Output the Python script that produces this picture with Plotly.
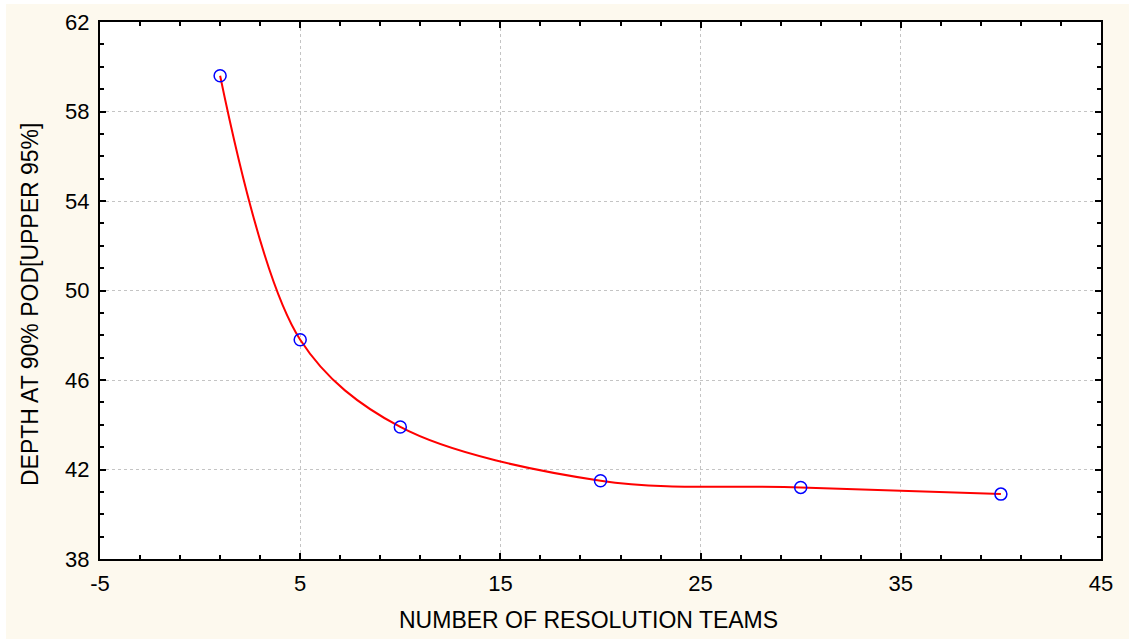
import plotly.graph_objects as go

# Detection depth vs. number of resolution teams
teams = [1, 5, 10, 20, 30, 40]
depth = [59.6, 47.8, 43.9, 41.5, 41.2, 40.9]

x_ticks = [-5, 5, 15, 25, 35, 45]
y_ticks = [38, 42, 46, 50, 54, 58, 62]

x_title = "NUMBER OF RESOLUTION TEAMS"
y_title = "DEPTH AT 90% POD[UPPER 95%]"

W, H = 1129, 639
L, R, T, B = 100, 28, 22, 80
pw, ph = W - L - R, H - T - B

cream = "#FDF9EE"
font = "Liberation Sans, Arial, sans-serif"

fig = go.Figure()

fig.add_trace(go.Scatter(
    x=teams, y=depth, mode="lines",
    line=dict(color="#FF0000", width=2, shape="spline", smoothing=0.95),
    hoverinfo="skip", showlegend=False,
))
fig.add_trace(go.Scatter(
    x=teams, y=depth, mode="markers",
    marker=dict(symbol="circle-open", size=12, color="#0000FF", line=dict(width=1.5)),
    showlegend=False,
))

axis_common = dict(
    showline=True, linecolor="black", linewidth=2, mirror="allticks",
    ticks="inside", ticklen=6, tickwidth=1.5, tickcolor="black",
    showgrid=True, gridcolor="#C4C4C4", griddash="dot", gridwidth=1,
    zeroline=False, automargin=False,
    tickfont=dict(family=font, size=22, color="black"),
)

fig.update_xaxes(
    range=[-5, 45], tickvals=x_ticks, ticktext=[str(v) for v in x_ticks],
    minor=dict(dtick=2, tick0=-5, ticks="inside", ticklen=4, tickwidth=1.5, tickcolor="black", showgrid=False),
    ticklabelstandoff=4,
    **axis_common,
)
fig.update_yaxes(
    range=[38, 62], tickvals=y_ticks, ticktext=[str(v) for v in y_ticks],
    minor=dict(dtick=1, tick0=38, ticks="inside", ticklen=4, tickwidth=1.5, tickcolor="black", showgrid=False),
    ticklabelstandoff=4,
    **axis_common,
)

# axis titles placed as paper annotations
fig.add_annotation(text=x_title, xref="paper", yref="paper",
                   x=(588 - L) / pw, y=-(620 - (T + ph)) / ph,
                   xanchor="center", yanchor="middle", showarrow=False,
                   font=dict(family=font, size=23, color="black"))
fig.add_annotation(text=y_title, xref="paper", yref="paper",
                   x=(30 - L) / pw, y=((T + ph) - 305) / ph, textangle=-90,
                   xanchor="center", yanchor="middle", showarrow=False,
                   font=dict(family=font, size=23, color="black"))

# thin white strips along the left and top edges of the page
fig.add_shape(type="rect", xref="paper", yref="paper",
              x0=-L / pw, x1=(6 - L) / pw, y0=-B / ph, y1=(H - B) / ph + 0.01,
              fillcolor="white", line=dict(width=0), layer="below")
fig.add_shape(type="rect", xref="paper", yref="paper",
              x0=-L / pw, x1=(W - L) / pw + 0.01, y0=(H - B - 4) / ph, y1=(H - B) / ph + 0.01,
              fillcolor="white", line=dict(width=0), layer="below")

fig.update_layout(
    width=W, height=H,
    margin=dict(l=L, r=R, t=T, b=B),
    paper_bgcolor=cream, plot_bgcolor="white",
    font=dict(family=font, color="black"),
)

fig.write_html("out.html")
